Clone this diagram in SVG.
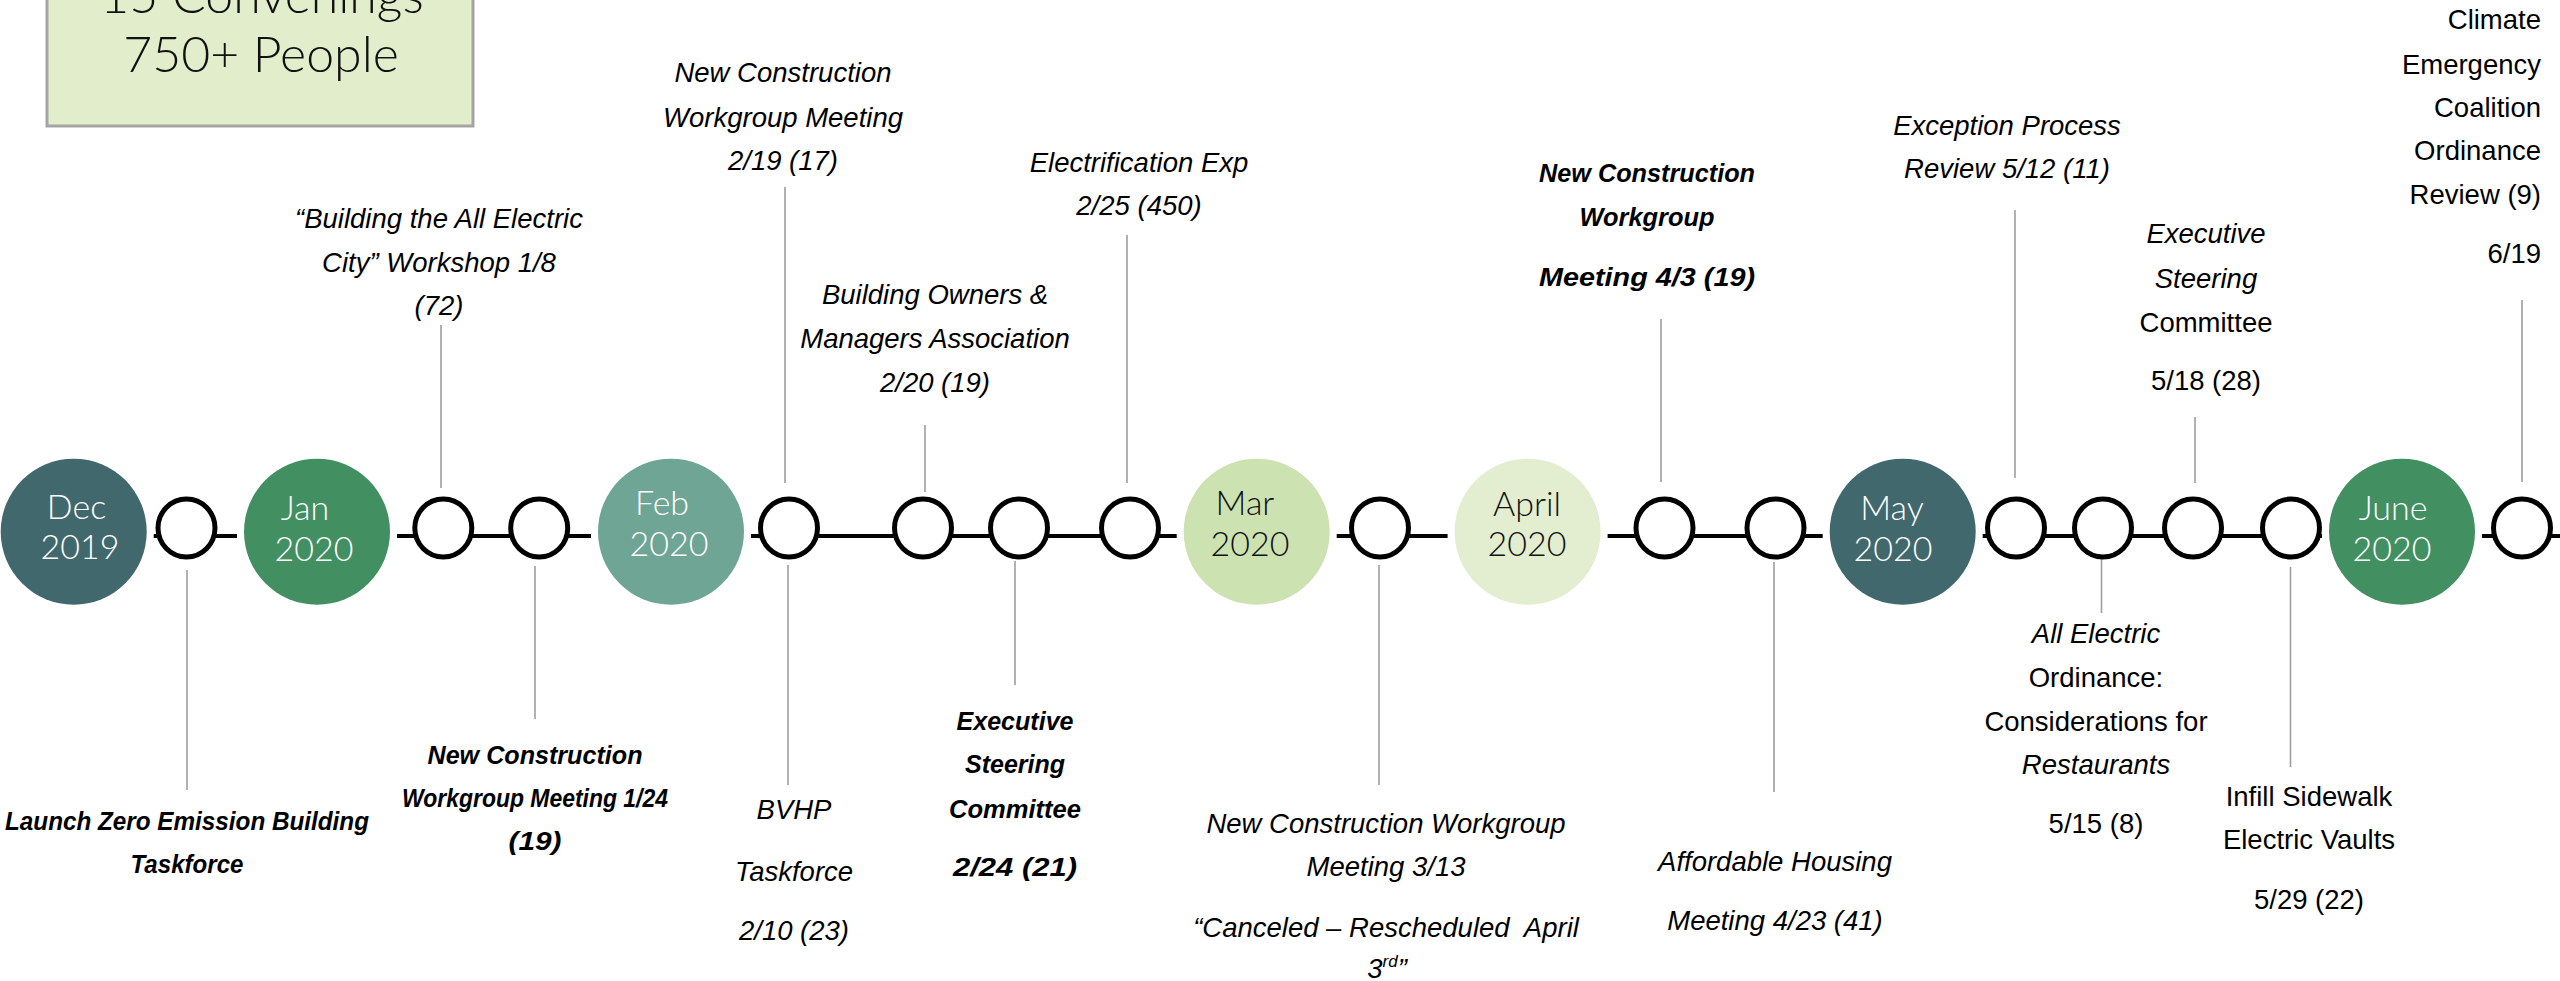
<svg xmlns="http://www.w3.org/2000/svg" width="2560" height="981" viewBox="0 0 2560 981">
<style>
.bg{fill:#ffffff}
.mt{font-family:Lato,"Open Sans","Liberation Sans",sans-serif;font-weight:300;font-size:34px;text-anchor:middle}
.w{fill:#ffffff}
.k{fill:#111111}
.dot{fill:#ffffff;stroke:#000000;stroke-width:5}
.lead{stroke:#9e9e9e;stroke-width:1.6;fill:none}
.lbl{font-family:"Liberation Sans",Arial,sans-serif;font-size:27.5px;font-style:italic;fill:#000000;text-anchor:middle}
.bd{font-weight:bold;font-size:26px}
.up{font-style:normal}
.end{text-anchor:end}
.conn{stroke:#000000;stroke-width:4;fill:none}
.box{fill:#e2edcc;stroke:#a5a5a5;stroke-width:3}
.boxt{font-family:Lato,"Open Sans","Liberation Sans",sans-serif;font-weight:300;font-size:50px;fill:#111111;text-anchor:middle}
</style>
<rect class="bg" x="0" y="0" width="2560" height="981"/>

<g id="summary">
<rect class="box" x="47" y="-30" width="426" height="156"/>
<text class="boxt" x="262" y="13">15 Convenings</text>
<text class="boxt" x="261" y="72">750+ People</text>
</g>

<g id="connectors">
<path class="conn" d="M153.7,536 H237 M397,536 H591 M751,536 H1176.7 M1336.7,536 H1447.6 M1607.6,536 H1822.7 M1982.7,536 H2322 M2482,536 H2560"/>
</g>

<g id="month-dec">
<circle cx="73.7" cy="531.7" r="73" fill="#41686c"/>
<text class="mt w" x="76.5" y="519">Dec</text>
<text class="mt w" x="80" y="559">2019</text>
</g>
<g id="month-jan">
<circle cx="317" cy="531.7" r="73" fill="#428f62"/>
<text class="mt w" x="305" y="520">Jan</text>
<text class="mt w" x="314" y="561">2020</text>
</g>
<g id="month-feb">
<circle cx="671" cy="531.7" r="73" fill="#6fa594"/>
<text class="mt w" x="662" y="515">Feb</text>
<text class="mt w" x="669" y="556">2020</text>
</g>
<g id="month-mar">
<circle cx="1256.7" cy="531.7" r="73" fill="#cce2b1"/>
<text class="mt k" x="1245" y="515">Mar</text>
<text class="mt k" x="1250" y="556">2020</text>
</g>
<g id="month-apr">
<circle cx="1527.6" cy="531.7" r="73" fill="#e2eecf"/>
<text class="mt k" x="1527" y="516">April</text>
<text class="mt k" x="1527" y="556">2020</text>
</g>
<g id="month-may">
<circle cx="1902.7" cy="531.7" r="73" fill="#41686c"/>
<text class="mt w" x="1892" y="520">May</text>
<text class="mt w" x="1893" y="561">2020</text>
</g>
<g id="month-jun">
<circle cx="2402" cy="531.7" r="73" fill="#428f62"/>
<text class="mt w" x="2393" y="520">June</text>
<text class="mt w" x="2392" y="561">2020</text>
</g>

<g id="ev-launch">
<line class="lead" x1="187" y1="570" x2="187" y2="790"/>
<ellipse class="dot" cx="186.5" cy="528" rx="28.5" ry="29"/>
<text class="lbl bd" x="187" y="830" textLength="364" lengthAdjust="spacingAndGlyphs">Launch Zero Emission Building</text>
<text class="lbl bd" x="187" y="873" textLength="113" lengthAdjust="spacingAndGlyphs">Taskforce</text>
</g>

<g id="ev-workshop">
<line class="lead" x1="441" y1="325" x2="441" y2="488"/>
<ellipse class="dot" cx="443.3" cy="528" rx="28.5" ry="29"/>
<text class="lbl" x="439" y="228">“Building the All Electric</text>
<text class="lbl" x="439" y="272">City” Workshop 1/8</text>
<text class="lbl" x="439" y="315">(72)</text>
</g>

<g id="ev-nc-0124">
<line class="lead" x1="535" y1="566" x2="535" y2="719"/>
<ellipse class="dot" cx="539.2" cy="528" rx="28.5" ry="29"/>
<text class="lbl bd" x="535" y="764" textLength="215" lengthAdjust="spacingAndGlyphs">New Construction</text>
<text class="lbl bd" x="535" y="807" textLength="266" lengthAdjust="spacingAndGlyphs">Workgroup Meeting 1/24</text>
<text class="lbl bd" x="535" y="850" textLength="53" lengthAdjust="spacingAndGlyphs">(19)</text>
</g>

<g id="ev-bvhp">
<line class="lead" x1="788" y1="565" x2="788" y2="785"/>
<line class="lead" x1="785" y1="187" x2="785" y2="483"/>
<ellipse class="dot" cx="789" cy="528" rx="28.5" ry="29"/>
<text class="lbl" x="794" y="819">BVHP</text>
<text class="lbl" x="794" y="881">Taskforce</text>
<text class="lbl" x="794" y="940">2/10 (23)</text>
<text class="lbl" x="783" y="82">New Construction</text>
<text class="lbl" x="783" y="127">Workgroup Meeting</text>
<text class="lbl" x="783" y="170">2/19 (17)</text>
</g>

<g id="ev-boma">
<line class="lead" x1="925" y1="425" x2="925" y2="492"/>
<ellipse class="dot" cx="923" cy="528" rx="28.5" ry="29"/>
<text class="lbl" x="935" y="304">Building Owners &amp;</text>
<text class="lbl" x="935" y="348">Managers Association</text>
<text class="lbl" x="935" y="392">2/20 (19)</text>
</g>

<g id="ev-exec-0224">
<line class="lead" x1="1015" y1="561" x2="1015" y2="685"/>
<ellipse class="dot" cx="1019" cy="528" rx="28.5" ry="29"/>
<text class="lbl bd" x="1015" y="730" textLength="117" lengthAdjust="spacingAndGlyphs">Executive</text>
<text class="lbl bd" x="1015" y="773" textLength="100" lengthAdjust="spacingAndGlyphs">Steering</text>
<text class="lbl bd" x="1015" y="818" textLength="132" lengthAdjust="spacingAndGlyphs">Committee</text>
<text class="lbl bd" x="1015" y="876" textLength="124" lengthAdjust="spacingAndGlyphs">2/24 (21)</text>
</g>

<g id="ev-expo">
<line class="lead" x1="1127" y1="235" x2="1127" y2="483"/>
<ellipse class="dot" cx="1130" cy="528" rx="28.5" ry="29"/>
<text class="lbl" x="1139" y="172">Electrification Exp</text>
<text class="lbl" x="1139" y="215">2/25 (450)</text>
</g>

<g id="ev-nc-0313">
<line class="lead" x1="1379" y1="565" x2="1379" y2="785"/>
<ellipse class="dot" cx="1380" cy="528" rx="28.5" ry="29"/>
<text class="lbl" x="1386" y="833">New Construction Workgroup</text>
<text class="lbl" x="1386" y="876">Meeting 3/13</text>
<text class="lbl" x="1386" y="937">“Canceled – Rescheduled&#160; April</text>
<text class="lbl" x="1387" y="978">3<tspan font-size="17" dy="-11">rd</tspan><tspan dy="11">”</tspan></text>
</g>

<g id="ev-nc-0403">
<line class="lead" x1="1661" y1="319" x2="1661" y2="482"/>
<ellipse class="dot" cx="1664.5" cy="528" rx="28.5" ry="29"/>
<text class="lbl bd" x="1647" y="182" textLength="216" lengthAdjust="spacingAndGlyphs">New Construction</text>
<text class="lbl bd" x="1647" y="226" textLength="135" lengthAdjust="spacingAndGlyphs">Workgroup</text>
<text class="lbl bd" x="1647" y="286" textLength="216" lengthAdjust="spacingAndGlyphs">Meeting 4/3 (19)</text>
</g>

<g id="ev-affordable">
<line class="lead" x1="1774" y1="562" x2="1774" y2="792"/>
<ellipse class="dot" cx="1775.5" cy="528" rx="28.5" ry="29"/>
<text class="lbl" x="1775" y="871">Affordable Housing</text>
<text class="lbl" x="1775" y="930">Meeting 4/23 (41)</text>
</g>

<g id="ev-exception">
<line class="lead" x1="2015" y1="210" x2="2015" y2="478"/>
<ellipse class="dot" cx="2016" cy="528" rx="28.5" ry="29"/>
<text class="lbl" x="2007" y="135">Exception Process</text>
<text class="lbl" x="2007" y="178">Review 5/12 (11)</text>
</g>

<g id="ev-restaurants">
<line class="lead" x1="2101.5" y1="556" x2="2101.5" y2="613"/>
<ellipse class="dot" cx="2103" cy="528" rx="28.5" ry="29"/>
<text class="lbl" x="2096" y="643">All Electric</text>
<text class="lbl up" x="2096" y="687">Ordinance:</text>
<text class="lbl up" x="2096" y="731">Considerations for</text>
<text class="lbl" x="2096" y="774">Restaurants</text>
<text class="lbl up" x="2096" y="833">5/15 (8)</text>
</g>

<g id="ev-exec-0518">
<line class="lead" x1="2195" y1="417" x2="2195" y2="483"/>
<ellipse class="dot" cx="2193" cy="528" rx="28.5" ry="29"/>
<text class="lbl" x="2206" y="243">Executive</text>
<text class="lbl" x="2206" y="288">Steering</text>
<text class="lbl up" x="2206" y="332">Committee</text>
<text class="lbl up" x="2206" y="390">5/18 (28)</text>
</g>

<g id="ev-vaults">
<line class="lead" x1="2290.5" y1="567" x2="2290.5" y2="767"/>
<ellipse class="dot" cx="2291" cy="528" rx="28.5" ry="29"/>
<text class="lbl up" x="2309" y="806">Infill Sidewalk</text>
<text class="lbl up" x="2309" y="849">Electric Vaults</text>
<text class="lbl up" x="2309" y="909">5/29 (22)</text>
</g>

<g id="ev-climate">
<line class="lead" x1="2522" y1="300" x2="2522" y2="482"/>
<ellipse class="dot" cx="2522" cy="528" rx="28.5" ry="29"/>
<text class="lbl up end" x="2541" y="29">Climate</text>
<text class="lbl up end" x="2541" y="74">Emergency</text>
<text class="lbl up end" x="2541" y="117">Coalition</text>
<text class="lbl up end" x="2541" y="160">Ordinance</text>
<text class="lbl up end" x="2541" y="204">Review (9)</text>
<text class="lbl up end" x="2541" y="263">6/19</text>
</g>
</svg>
